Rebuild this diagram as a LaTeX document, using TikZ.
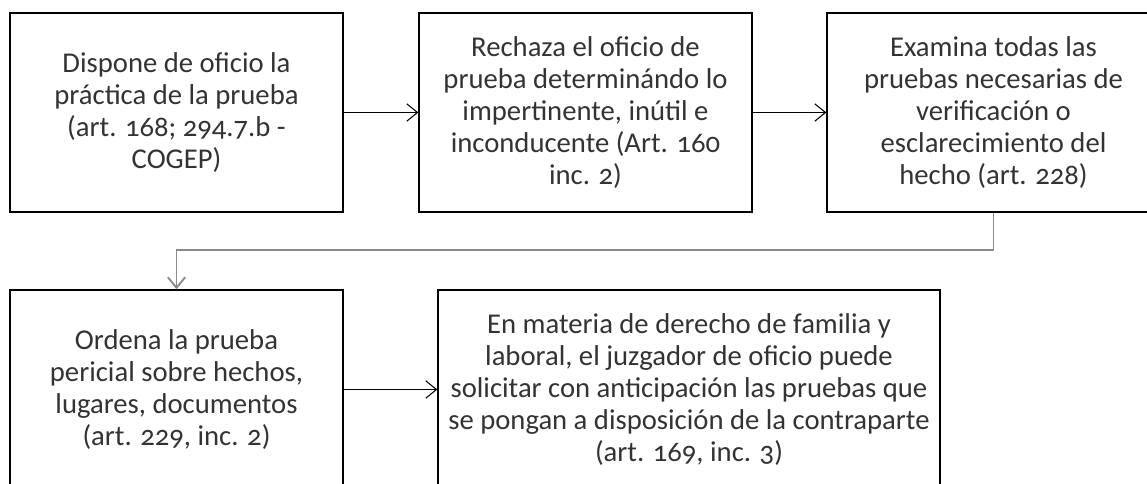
\documentclass[tikz,border=0pt]{standalone}
\usepackage{fontspec}
\setmainfont{Carlito}[Numbers=OldStyle]
\usepackage{tikz}
\usetikzlibrary{arrows.meta}
\definecolor{textgray}{HTML}{333333}
\definecolor{linegray}{HTML}{8A8A8A}

\begin{document}
\begin{tikzpicture}[x=0.75pt,y=-0.75pt,
  paso/.style={rectangle,draw=black,line width=1pt,minimum width=249.75pt,minimum height=149.25pt,
    inner sep=0pt,align=center,text=textgray,font=\fontsize{21.5}{24}\selectfont},
  pasoancho/.style={paso,minimum width=376.5pt},
  flecha/.style={-{Straight Barb[length=8pt,width=13pt]},line width=0.8pt},
  baja/.style={flecha,draw=linegray,line width=1.4pt}]
\useasboundingbox (0,0) rectangle (1147,483);
\clip (0,0) rectangle (1147,483);
%fila de arriba
\path (176.5,112.5) node(dispone) [paso]{Dispone de oficio la\\
práctica de la prueba\\
(art. 168; 294.7.b -\\
COGEP)};
\path (585.5,112.5) node(rechaza) [paso]{Rechaza el oficio de\\
prueba determinándo lo\\
impertinente, inútil e\\
inconducente (Art. 160\\
inc. 2)};
\path (993.5,112.5) node(examina) [paso]{Examina todas las\\
pruebas necesarias de\\
verificación o\\
esclarecimiento del\\
hecho (art. 228)};
%fila de abajo
\path (176.5,389.5) node(ordena) [paso]{Ordena la prueba\\
pericial sobre hechos,\\
lugares, documentos\\
(art. 229, inc. 2)};
\path (689,389.5) node(familia) [pasoancho]{En materia de derecho de familia y\\
laboral, el juzgador de oficio puede\\
solicitar con anticipación las pruebas que\\
se pongan a disposición de la contraparte\\
(art. 169, inc. 3)};
\coordinate (codo) at (0,250);
\draw[flecha] (dispone) -- (rechaza);
\draw[flecha] (rechaza) -- (examina);
\draw[baja] (examina.south) -- (examina.south |- codo) -| (ordena.north);
\draw[flecha] (ordena) -- (familia);
\end{tikzpicture}
\end{document}
